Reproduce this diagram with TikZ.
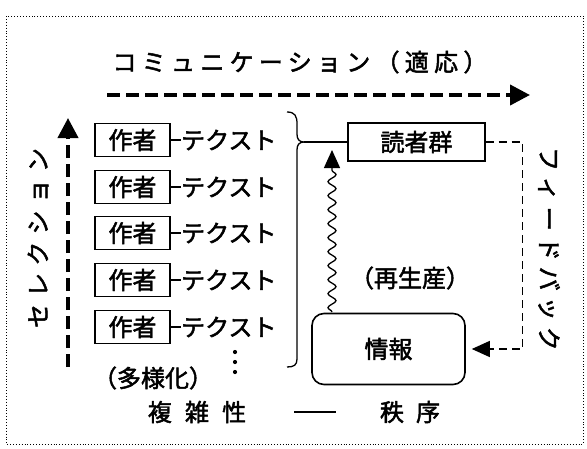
\documentclass[tikz,border=0pt]{standalone}
\usepackage{fontspec}
\newfontfamily\jp{Noto Sans CJK JP}[FakeBold=2]
\usetikzlibrary{arrows.meta,decorations.pathmorphing}

\begin{document}
\begin{tikzpicture}[x=1pt,y=-1pt,
    every node/.style={font=\jp\fontsize{24}{28}\selectfont,inner sep=0pt},
    spaced/.style={font=\jp\fontsize{24}{28}\selectfont\addfontfeature{LetterSpace=#1}},
    authorbox/.style={draw,line width=1.4pt,minimum width=75pt,minimum height=33pt},
    bigdash/.style={line width=4pt,dash pattern=on 13pt off 6pt,-{Triangle[length=20pt,width=20pt]}},
    thindash/.style={line width=1.3pt,dash pattern=on 8pt off 5pt}]
  \useasboundingbox (0,0) rectangle (587,448);
  \draw [dotted,line width=0.9pt] (6,16) rectangle (583,444);

  \node [spaced=22] (title) at (300,62) {コミュニケーション（適応）};
  \coordinate (commstart) at (107,95);
  \coordinate (commend) at (530,95);
  \draw [bigdash] (commstart) -- (commend);

  \node [spaced=30,rotate=90] (selection) at (38,238) {セレクション};
  \coordinate (selstart) at (68,367);
  \coordinate (selend) at (68,118);
  \draw [bigdash] (selstart) -- (selend);

  \foreach \i/\y in {1/140,2/187,3/233,4/280,5/327}
  {
    \node [authorbox] (author\i) at (132.5,\y) {作者};
    \node [anchor=west] (text\i) at (181,\y) {テクスト};
    \draw [line width=1.4pt] (author\i.east) -- (text\i.west);
  }
  \foreach \y in {352,362,372}
    \fill (235,\y) circle (2.1pt);
  \node (diverse) at (153,378) {（多様化）};

  % brace gathering the texts
  \draw [line width=1.3pt] (287,112) .. controls (295,112) and (297,116) .. (297,124) -- (297,134)
    .. controls (297,139) and (299,142) .. (304,142)
    .. controls (299,142) and (297,145) .. (297,150) -- (297,359)
    .. controls (297,365) and (294,367) .. (287,367);
  \coordinate (bracetip) at (304,142);

  \node [draw,line width=1.4pt,minimum width=137pt,minimum height=38pt] (readers) at (416.5,142) {読者群};
  \draw [line width=1.3pt] (bracetip) -- (readers.west);

  \node [draw,line width=1.6pt,rounded corners=12pt,minimum width=153pt,minimum height=71pt] (info) at (388.5,349) {情報};
  \node (reproduce) at (410,278) {（再生産）};
  \coordinate (wavestart) at (332,312);
  \coordinate (waveend) at (332,150);
  \draw [line width=1.3pt,decorate,decoration={snake,amplitude=4pt,segment length=14pt,post length=14pt},
    -{Triangle[length=18pt,width=16pt]}] (wavestart) -- (waveend);

  \node [spaced=25,rotate=-90] (feedback) at (549,249) {フィードバック};
  \draw [thindash,-{Triangle[length=18pt,width=16pt]}] (readers.east) -- ++(37,0) |- ([xshift=6pt]info.east);

  \node [spaced=55] (complexity) at (197,412) {複雑性};
  \node [spaced=50] (order) at (410,412) {秩序};
  \draw [line width=1.2pt,shorten <=48pt,shorten >=44pt] (complexity) -- (order);
\end{tikzpicture}
\end{document}
